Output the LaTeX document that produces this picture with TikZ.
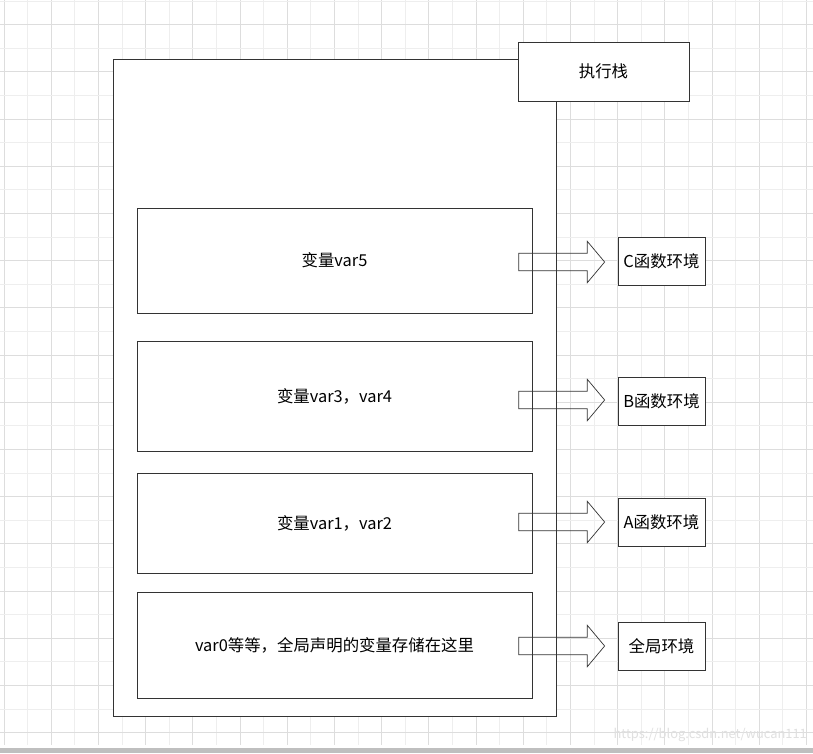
\documentclass[tikz,border=0pt]{standalone}
\usepackage{fontspec}
\setmainfont{Noto Sans CJK SC}
\usetikzlibrary{shapes.arrows}

\definecolor{linegray}{HTML}{333333}
\definecolor{gridlight}{HTML}{EEEEEE}
\definecolor{griddark}{HTML}{DDDDDD}

\tikzset{
    framebox/.style={draw=linegray, line width=0.8pt, fill=white, minimum width=11.85cm, inner sep=0pt},
    envbox/.style={draw=linegray, line width=0.8pt, fill=white, minimum width=2.61cm, minimum height=1.44cm, inner sep=0pt},
    pusharrow/.style={single arrow, draw=linegray, line width=0.6pt, minimum height=2.58cm,
        inner xsep=0pt, inner ysep=0.25cm, single arrow head extend=0.36cm, single arrow tip angle=100},
}

\begin{document}
\begin{tikzpicture}[x=0.03cm, y=-0.03cm, font=\fontsize{14pt}{16pt}\selectfont]
                \useasboundingbox (0,0) rectangle (813,753);
                \fill[white] (0,0) rectangle (813,753);

                % background grid
                \foreach \k in {0,...,34} {
                    \pgfmathsetmacro{\gx}{4+23.6*\k}
                    \ifodd\k \def\gc{gridlight}\else\def\gc{griddark}\fi
                    \draw[\gc, line width=0.6pt] (\gx,0) -- (\gx,745);
                }
                \foreach \k in {0,...,31} {
                    \pgfmathsetmacro{\gy}{1+23.6*\k}
                    \ifodd\k \def\gc{griddark}\else\def\gc{gridlight}\fi
                    \draw[\gc, line width=0.6pt] (0,\gy) -- (813,\gy);
                }
                \fill[black!25] (0,748) rectangle (813,753);

                % stack
                \draw[linegray, line width=0.8pt, fill=white] (113,59) rectangle (556,716);
                \node[envbox, minimum width=5.13cm, minimum height=1.77cm] (title) at (603.5,71.5) {执行栈};

                \node[framebox, minimum height=3.15cm] (frameC) at (334.5,260.5) {变量var5};
                \node[framebox, minimum height=3.3cm] (frameB) at (334.5,396) {变量var3，var4};
                \node[framebox, minimum height=3.0cm] (frameA) at (334.5,523) {变量var1，var2};
                \node[framebox, minimum height=3.18cm] (frameG) at (334.5,645) {var0等等，全局声明的变量存储在这里};

                % environments
                \node[envbox] (envC) at (661.5,261) {C函数环境};
                \node[envbox] (envB) at (661.5,401.5) {B函数环境};
                \node[envbox] (envA) at (661.5,522.5) {A函数环境};
                \node[envbox] (envG) at (661.5,646) {全局环境};

                \node[pusharrow] (arrC) at (558,262) {};
                \node[pusharrow] (arrB) at (558,400) {};
                \node[pusharrow] (arrA) at (558,522) {};
                \node[pusharrow] (arrG) at (558,646) {};

                \node[black!12, font=\fontsize{11pt}{13pt}\selectfont, anchor=east] (mark) at (811,735) {https://blog.csdn.net/wucan111};
            \end{tikzpicture}
\end{document}
